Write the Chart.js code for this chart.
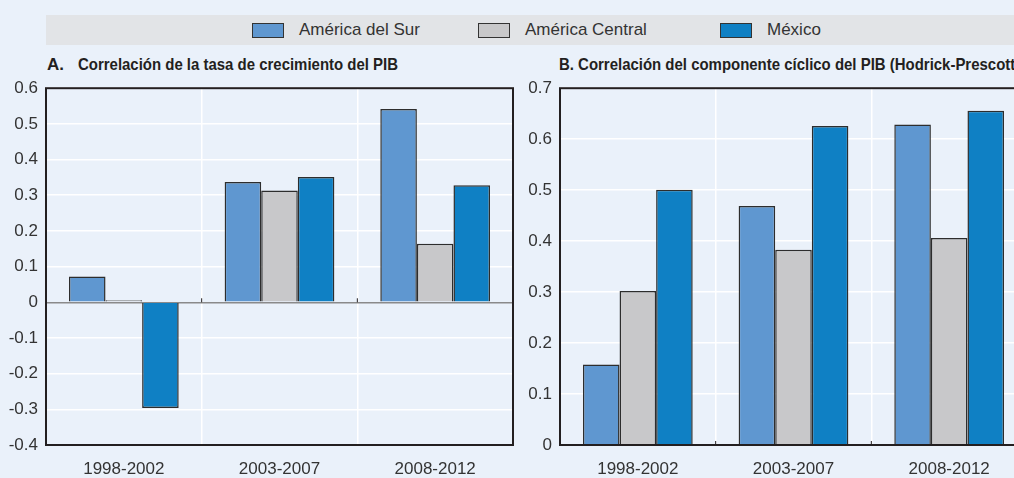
<!DOCTYPE html>
<html>
<head>
<meta charset="utf-8">
<script src="https://cdn.jsdelivr.net/npm/chart.js@4/dist/chart.umd.min.js"></script>
<style>
  html, body { margin: 0; padding: 0; }
  body { width: 1014px; height: 478px; overflow: hidden; position: relative; background: #eaf1fa;
         font-family: "Liberation Sans", Arial, sans-serif; color: #231f20; }
  #legend { position: absolute; left: 46px; top: 15px; width: 968px; height: 30px; background: #e2e4e7; }
  .item { position: absolute; top: 0; height: 30px; display: flex; align-items: center; font-size: 17px; color: #333; }
  .box { width: 30px; height: 13px; border: 1px solid #333; margin-right: 15px; }
  .title { position: absolute; top: 55px; font-size: 17px; font-weight: bold; white-space: nowrap;
           transform-origin: 0 0; line-height: 20px; }
  canvas { position: absolute; }
</style>
</head>
<body>
<div id="legend"></div>
<div class="title" style="left:47px">A.</div>
<div class="title" id="titleA" style="left:78px">Correlación de la tasa de crecimiento del PIB</div>
<div class="title" id="titleB" style="left:559px">B. Correlación del componente cíclico del PIB (Hodrick-Prescott)</div>
<div style="position:absolute;left:0;top:70px;width:520px;height:408px"><canvas id="chartA"></canvas></div>
<div style="position:absolute;left:514px;top:70px;width:520px;height:408px"><canvas id="chartB"></canvas></div>
<script>
const periods = ['1998-2002', '2003-2007', '2008-2012'];
const seriesNames = ['América del Sur', 'América Central', 'México'];
const colors = ['#5f97d0', '#c8c8ca', '#0f80c4'];

// Panel A: correlación de la tasa de crecimiento del PIB
const surA = [0.072, 0.337, 0.542];
const centralA = [0.006, 0.313, 0.164];
const mexicoA = [-0.296, 0.351, 0.328];
// Panel B: componente cíclico (Hodrick-Prescott)
const surB = [0.158, 0.469, 0.629];
const centralB = [0.302, 0.383, 0.406];
const mexicoB = [0.501, 0.626, 0.656];

// titles in a condensed look: squeeze Liberation Sans Bold horizontally
const tA = document.getElementById('titleA');
const sx = 320 / tA.getBoundingClientRect().width;
tA.style.transform = 'scaleX(' + sx + ')';
document.getElementById('titleB').style.transform = 'scaleX(' + sx + ')';

const legendEl = document.getElementById('legend');
const legendLefts = [206, 432, 674];
seriesNames.forEach((name, i) => {
  const it = document.createElement('div');
  it.className = 'item';
  it.style.left = legendLefts[i] + 'px';
  it.innerHTML = '<span class="box" style="background:' + colors[i] + '"></span>' + name;
  legendEl.appendChild(it);
});

const frame = {
  id: 'frame',
  afterDraw(chart) {
    const a = chart.chartArea, c = chart.ctx;
    const y = chart.scales.y, x = chart.scales.x;
    const base = y.getPixelForValue(Math.max(y.min, 0));
    c.save();
    c.strokeStyle = '#231f20';
    // little ticks at category boundaries, on the base line
    c.lineWidth = 1;
    for (let i = 1; i < periods.length; i++) {
      const px = (x.getPixelForTick(i - 1) + x.getPixelForTick(i)) / 2;
      c.beginPath(); c.moveTo(px, base); c.lineTo(px, base - 4); c.stroke();
    }
    c.lineWidth = 2;
    c.strokeRect(a.left, a.top, a.right - a.left, a.bottom - a.top);
    c.restore();
  }
};

const tickFont = { family: '"Liberation Sans", Arial, sans-serif', size: 17 };

function makeChart(id, data, min, max) {
  return new Chart(document.getElementById(id), {
    type: 'bar',
    data: {
      labels: periods,
      datasets: seriesNames.map((n, i) => ({
        label: n,
        data: data[i],
        backgroundColor: colors[i],
        borderColor: '#2d2d2d',
        borderWidth: 1.5,
        barPercentage: 1,
        categoryPercentage: 0.705
      }))
    },
    options: {
      responsive: true,
      maintainAspectRatio: false,
      animation: false,
      layout: { padding: { top: 10, right: 7, left: 0, bottom: 0 } },
      plugins: { legend: { display: false }, tooltip: { enabled: false } },
      scales: {
        x: {
          grid: { color: '#ffffff', lineWidth: 1.5, drawTicks: false },
          border: { display: false },
          ticks: { color: '#333333', font: tickFont, padding: 14 },
          afterFit: s => { s.height = 33; }
        },
        y: {
          min: min, max: max,
          grid: {
            color: ctx => ctx.tick && ctx.tick.value === 0 ? '#8a8a8a' : '#ffffff',
            lineWidth: 1.5,
            drawTicks: false
          },
          border: { display: false },
          ticks: { stepSize: 0.1, color: '#333333', font: tickFont, padding: 8,
                   callback: v => Math.abs(v) < 1e-9 ? '0' : v.toFixed(1) },
          afterFit: s => { s.width = 46; }
        }
      }
    },
    plugins: [frame]
  });
}

makeChart('chartA', [surA, centralA, mexicoA], -0.4, 0.6);
makeChart('chartB', [surB, centralB, mexicoB], 0, 0.7);
</script>
</body>
</html>
